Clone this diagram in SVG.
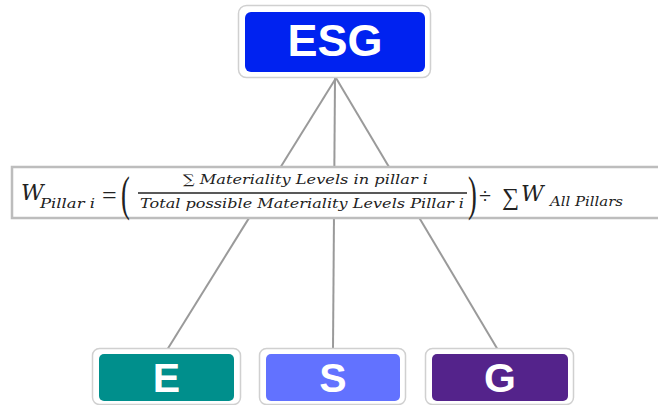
<svg xmlns="http://www.w3.org/2000/svg" width="658" height="405" viewBox="0 0 658 405">
<style>
.outer{fill:#fff;stroke:#d0d0d0;stroke-width:1.5}
.lbl{font-family:"Liberation Sans",Arial,sans-serif;font-weight:bold;fill:#fff;text-anchor:middle}
.conn{stroke:#9a9a9a;stroke-width:2;fill:none}
.m{font-family:"DejaVu Serif","Liberation Serif",serif;font-style:italic;fill:#222}
.s{font-family:"Liberation Serif","DejaVu Serif",serif;fill:#222}
</style>
<rect width="658" height="405" fill="#fff"/>
<g id="connectors">
<line class="conn" x1="336" y1="78" x2="167" y2="350"/>
<line class="conn" x1="335" y1="78" x2="333" y2="350"/>
<line class="conn" x1="336" y1="78" x2="498" y2="350"/>
</g>
<g id="formula">
<rect x="12" y="167" width="650" height="51" fill="#fff" stroke="#bdbdbd" stroke-width="2.5"/>
<text class="m" x="21" y="200" font-size="22">W</text>
<text class="m" x="40" y="208" font-size="13" textLength="55" lengthAdjust="spacingAndGlyphs">Pillar i</text>
<text class="s" x="102" y="204" font-size="26">=</text>
<text class="s" x="121" y="210" font-size="48" transform="translate(121 210) scale(0.55 1) translate(-121 -210)">(</text>
<text class="m" x="183" y="184" font-size="13" textLength="245" lengthAdjust="spacingAndGlyphs">∑ Materiality Levels in pillar i</text>
<line x1="138" y1="193" x2="467" y2="193" stroke="#222" stroke-width="1.6"/>
<text class="m" x="140" y="208" font-size="13" textLength="324" lengthAdjust="spacingAndGlyphs">Total possible Materiality Levels Pillar i</text>
<text class="s" x="468" y="210" font-size="48" transform="translate(468 210) scale(0.55 1) translate(-468 -210)">)</text>
<text class="s" x="479" y="203" font-size="22">÷</text>
<text class="s" x="502" y="205" font-size="24">∑</text>
<text class="m" x="521" y="201" font-size="22">W</text>
<text class="m" x="550" y="206" font-size="13" textLength="73" lengthAdjust="spacingAndGlyphs">All Pillars</text>
</g>
<g id="node-esg">
<rect class="outer" x="238.5" y="5.5" width="192" height="72" rx="8"/>
<rect x="245" y="12" width="180" height="60" rx="6" fill="#0022f0"/>
<text class="lbl" x="335" y="56" font-size="45">ESG</text>
</g>
<g id="node-e">
<rect class="outer" x="92.5" y="348.5" width="148" height="56" rx="7"/>
<rect x="99" y="354" width="135" height="47" rx="5" fill="#008f8c"/>
<text class="lbl" x="166.5" y="392" font-size="41">E</text>
</g>
<g id="node-s">
<rect class="outer" x="259.5" y="348.5" width="146" height="56" rx="7"/>
<rect x="266" y="354" width="134" height="47" rx="5" fill="#6272ff"/>
<text class="lbl" x="333" y="392" font-size="41">S</text>
</g>
<g id="node-g">
<rect class="outer" x="425.5" y="348.5" width="148" height="56" rx="7"/>
<rect x="432" y="354" width="136" height="47" rx="5" fill="#54238b"/>
<text class="lbl" x="500" y="392" font-size="41">G</text>
</g>
</svg>
